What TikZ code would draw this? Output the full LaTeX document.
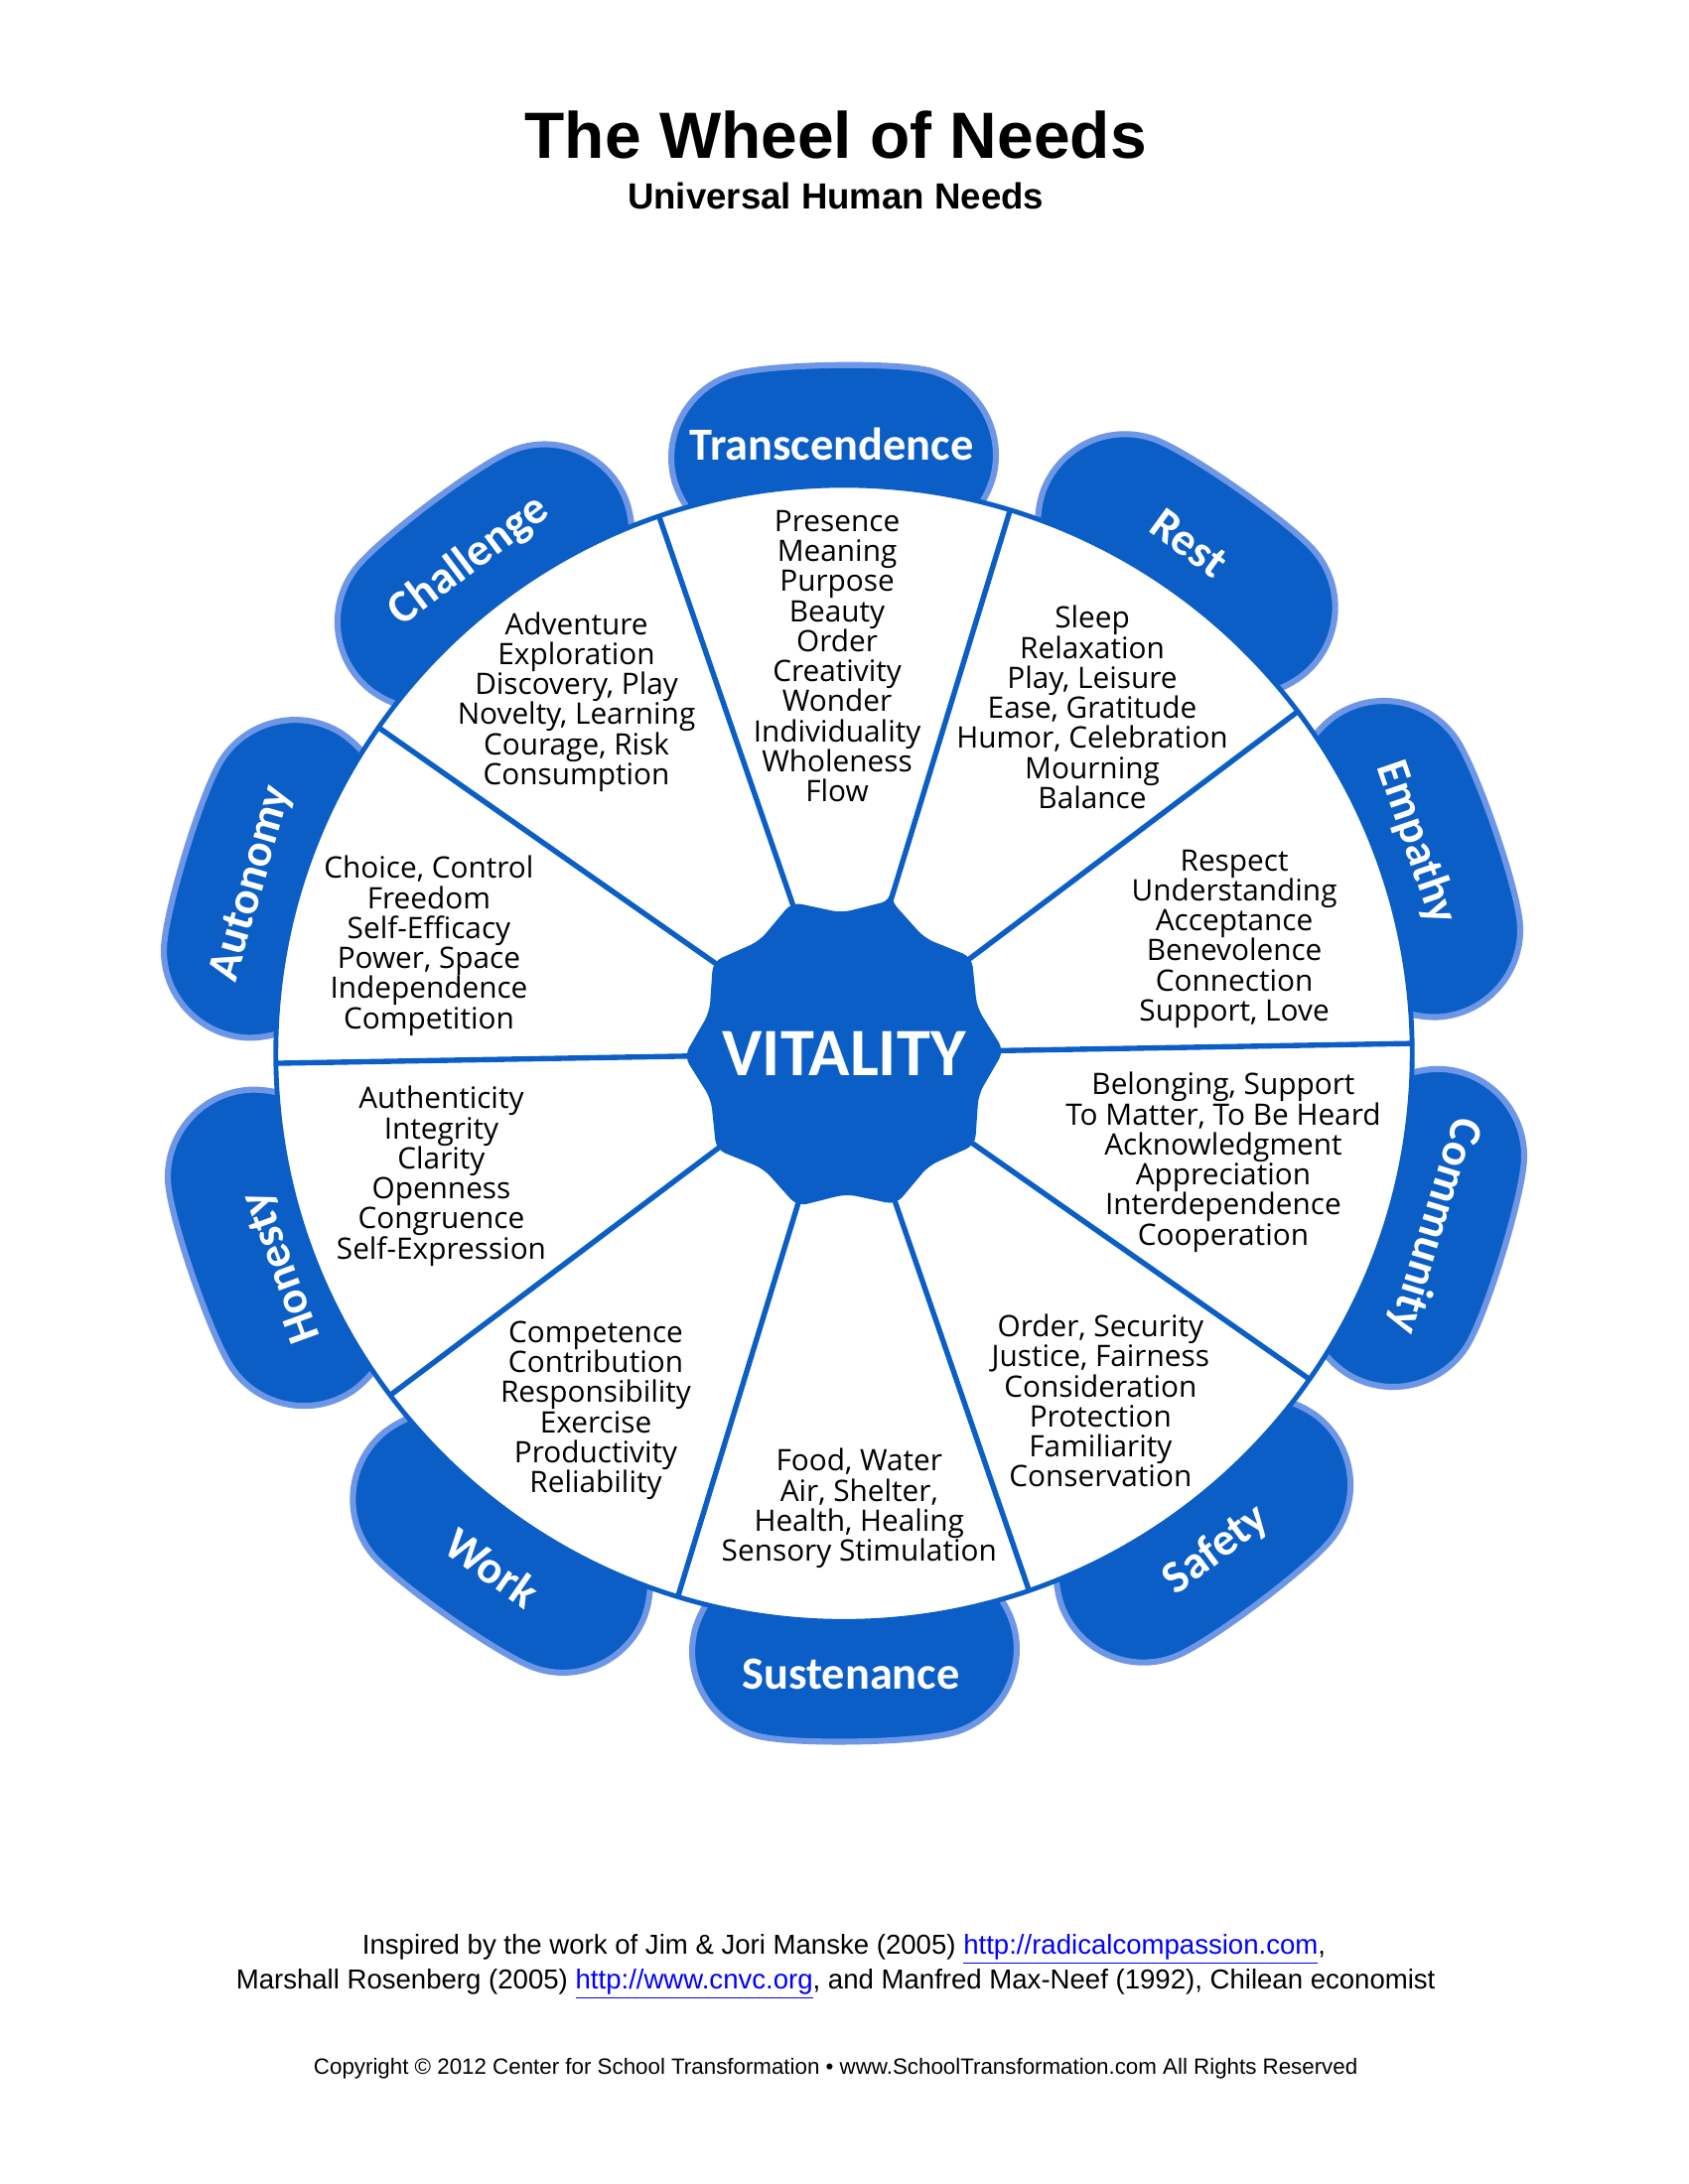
\documentclass[tikz,border=0pt]{standalone}
\usepackage{fontspec}
\setmainfont{Liberation Sans}
\newfontfamily\lab{Carlito}
\newfontfamily\lst{Open Sans}
\usepackage{xcolor}
\definecolor{wb}{RGB}{11,94,197}
\definecolor{wl}{RGB}{110,150,230}
\begin{document}
\begin{tikzpicture}[x=0.02cm,y=0.02cm,
  seg/.style={align=center,font=\lst\fontsize{12.2pt}{12.4pt}\selectfont},
  pl/.style={text=white,font=\lab\bfseries\fontsize{19pt}{20pt}\selectfont}]
\useasboundingbox (0,0) rectangle (1224,1584);
\fill[white] (0,0) rectangle (1224,1584);
\node[font=\bfseries\fontsize{27pt}{30pt}\selectfont] (title) at (606,1486) {The Wheel of Needs};
\node[font=\bfseries\fontsize{15pt}{17pt}\selectfont] (sub) at (606,1442) {Universal Human Needs};
\begin{scope}[shift={(0,-4)}]
\begin{scope}[shift={(612,824)}]
\foreach \a in {91,55,19,-17,-53,-89,-125,-161,163,127}{
  \fill[wb,draw=wl,line width=2.5pt,rounded corners=36]
    (\a-15.5:370) -- (\a-15.5:495) arc[start angle=\a-15.5,end angle=\a+15.5,radius=495] -- (\a+15.5:370) -- cycle;
}
\fill[white,draw=wb,line width=2pt] (0,0) circle (412);
\foreach \a in {73,37,1,-35,-71,-107,-143,-179,145,109}{
  \draw[wb,line width=2.2pt] (\a:100) -- (\a:412);
}
\fill[wb,rounded corners=4] (73:116)
  \foreach \a in {73,37,1,-35,-71,-107,-143,-179,145,109}{ -- (\a:116) -- (\a-18:102)} -- cycle;
\node[text=white,font=\lab\bfseries\fontsize{28pt}{30pt}\selectfont] (vit) at (0,0) {VITALITY};
\end{scope}
\node[pl] (p1) at (603,1266) {Transcendence};
\node[pl,rotate=-36] (p2) at (862,1194) {Rest};
\node[pl,rotate=-71] (p3) at (1027,977) {Empathy};
\node[pl,rotate=-107] (p4) at (1040,699) {Community};
\node[pl,rotate=37] (p5) at (882,464) {Safety};
\node[pl] (p6) at (617,374) {Sustenance};
\node[pl,rotate=-35] (p7) at (357,451) {Work};
\node[pl,rotate=110] (p8) at (205,669) {Honesty};
\node[pl,rotate=74] (p9) at (183,947) {Autonomy};
\node[pl,rotate=37] (p10) at (340,1181) {Challenge};
\node[seg] (s1) at (607,1112) {Presence\\Meaning\\Purpose\\Beauty\\Order\\Creativity\\Wonder\\Individuality\\Wholeness\\Flow};
\node[seg] (s2) at (792,1075) {Sleep\\Relaxation\\Play, Leisure\\Ease, Gratitude\\Humor, Celebration\\Mourning\\Balance};
\node[seg] (s3) at (895,907) {Respect\\Understanding\\Acceptance\\Benevolence\\Connection\\Support, Love};
\node[seg] (s4) at (887,745) {Belonging, Support\\To Matter, To Be Heard\\Acknowledgment\\Appreciation\\Interdependence\\Cooperation};
\node[seg] (s5) at (798,572) {Order, Security\\Justice, Fairness\\Consideration\\Protection\\Familiarity\\Conservation};
\node[seg] (s6) at (623,494) {Food, Water\\Air, Shelter,\\Health, Healing\\Sensory Stimulation};
\node[seg] (s7) at (432,565) {Competence\\Contribution\\Responsibility\\Exercise\\Productivity\\Reliability};
\node[seg] (s8) at (320,735) {Authenticity\\Integrity\\Clarity\\Openness\\Congruence\\Self-Expression};
\node[seg] (s9) at (311,902) {Choice, Control\\Freedom\\Self-Efficacy\\Power, Space\\Independence\\Competition};
\node[seg] (s10) at (418,1079) {Adventure\\Exploration\\Discovery, Play\\Novelty, Learning\\Courage, Risk\\Consumption};
\end{scope}
\node[font=\fontsize{11.3pt}{12pt}\selectfont] (f1) at (612,170) {Inspired by the work of Jim \& Jori Manske (2005) \textcolor{blue}{\underline{http://radicalcompassion.com}},};
\node[font=\fontsize{11.3pt}{12pt}\selectfont] (f2) at (606,145) {Marshall Rosenberg (2005) \textcolor{blue}{\underline{http://www.cnvc.org}}, and Manfred Max-Neef (1992), Chilean economist};
\node[font=\fontsize{9.15pt}{10pt}\selectfont] (f3) at (606,84) {Copyright \textcopyright{} 2012 Center for School Transformation \textbullet{} www.SchoolTransformation.com All Rights Reserved};
\end{tikzpicture}
\end{document}
